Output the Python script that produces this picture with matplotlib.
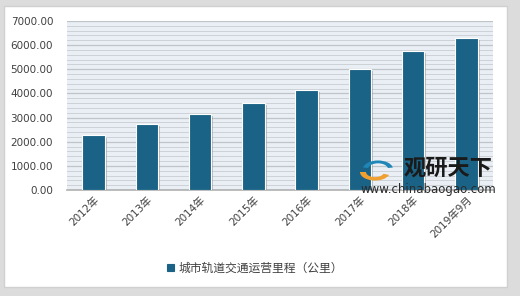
import matplotlib.pyplot as plt
import matplotlib.patheffects as pe
from matplotlib.patches import Rectangle, Wedge
from matplotlib.ticker import MultipleLocator, FuncFormatter

plt.rcParams['font.family'] = ['DejaVu Sans', 'Noto Sans CJK SC']

years = ['2012年', '2013年', '2014年', '2015年', '2016年', '2017年', '2018年', '2019年9月']
mileage = [2260, 2740, 3150, 3620, 4150, 5030, 5760, 6300]
series_name = '城市轨道交通运营里程（公里）'

bar_color = '#1b6386'

W, H = 520, 296
fig = plt.figure(figsize=(5.2, 2.96), dpi=100)
fig.patch.set_facecolor('#dcdcdc')

# white panel with a soft border
fig.patches.append(Rectangle((4 / W, 9 / H), 503 / W, 281 / H,
                             transform=fig.transFigure, facecolor='white',
                             edgecolor='#d0d0d0', linewidth=1, zorder=-10))

ax = fig.add_axes([67 / W, 106 / H, 426 / W, 169 / H])
ax.set_facecolor('#e9eff4')

x = range(len(years))
bars = ax.bar(x, mileage, width=0.42, color=bar_color, edgecolor='white',
              linewidth=0.8, zorder=3, label=series_name)
for b in bars:
    b.set_path_effects([pe.SimplePatchShadow(offset=(1.5, -1.5), shadow_rgbFace='#8a8a8a', alpha=0.5),
                        pe.Normal()])

ax.set_xlim(-0.5, len(years) - 0.5)
ax.set_ylim(0, 7000)
ax.yaxis.set_major_locator(MultipleLocator(1000))
ax.yaxis.set_minor_locator(MultipleLocator(200))
ax.yaxis.set_major_formatter(FuncFormatter(lambda v, p: f'{v:.2f}'))
ax.grid(axis='y', which='major', color='#bfc4c8', linewidth=0.9, zorder=1)
ax.grid(axis='y', which='minor', color='#cdd2d6', linewidth=0.7, zorder=1)

for s in ['top', 'right', 'left']:
    ax.spines[s].set_visible(False)
ax.spines['bottom'].set_color('#b0b0b0')
ax.spines['bottom'].set_linewidth(1.2)

ax.tick_params(axis='y', which='both', length=0, labelsize=7.5, labelcolor='#404040', pad=10)
ax.tick_params(axis='x', length=0, labelsize=7.5, labelcolor='#404040', pad=3)
ax.set_xticks(list(x))
ax.set_xticklabels(years, rotation=45, ha='right', rotation_mode='anchor')

# watermark logo + text
fig.patches.append(Wedge((375 / W, 1 - 172 / H), 15 / W, 180, 340, width=6 / W,
                         transform=fig.transFigure, facecolor='#f0a030',
                         edgecolor='none', zorder=10))
fig.patches.append(Wedge((378 / W, 1 - 169 / H), 15 / W, 10, 170, width=5 / W,
                         transform=fig.transFigure, facecolor='#1f86b8',
                         edgecolor='none', zorder=10))
fig.text(448 / W, 1 - 168 / H, '观研天下', fontsize=16, fontweight='bold',
         family=['Noto Sans CJK SC'], color='#1a1a1a', ha='center', va='center', zorder=10)
fig.text(428 / W, 1 - 189 / H, 'www.chinabaogao.com', fontsize=8.5,
         color='#2a2a2a', ha='center', va='center', zorder=10)

leg = fig.legend(handles=[bars], labels=[series_name], loc='center',
                 bbox_to_anchor=(255 / W, 1 - 268 / H), frameon=True,
                 prop={'family': ['Noto Sans CJK SC'], 'size': 8.5},
                 handlelength=0.6, handleheight=0.6,
                 handletextpad=0.4, borderpad=0.6, fancybox=False)
leg.get_frame().set_edgecolor('white')
leg.get_frame().set_facecolor('white')
for h in leg.legend_handles:
    h.set_edgecolor(bar_color)
    h.set_path_effects([])
for t in leg.get_texts():
    t.set_color('#404040')

fig.savefig('out.png', dpi=100)
